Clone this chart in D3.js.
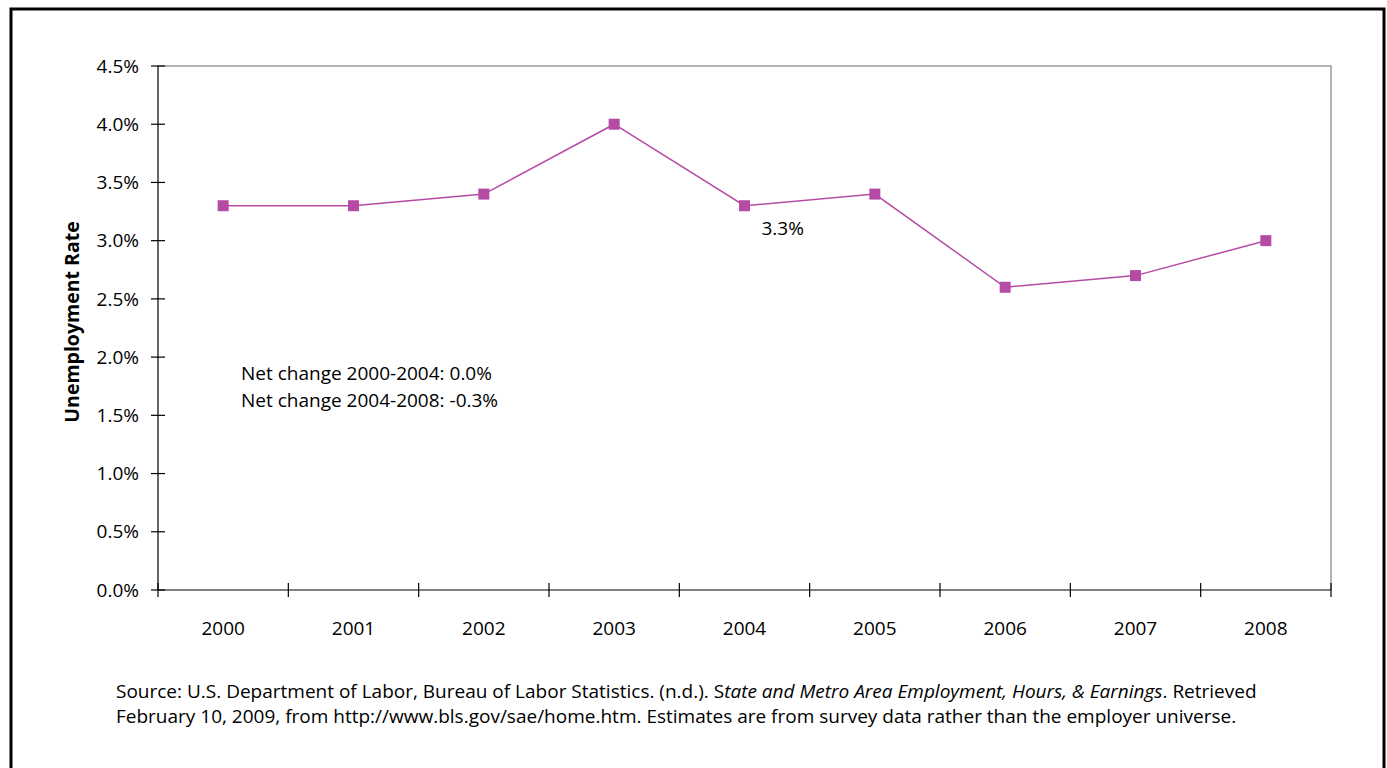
<!DOCTYPE html>
<html>
<head>
<meta charset="utf-8">
<script src="https://cdn.jsdelivr.net/npm/d3@7.9.0/dist/d3.min.js"></script>
<style>
  body { margin: 0; background: #fff; }
  svg { display: block; font-family: "Open Sans", "Noto Sans", sans-serif; }
</style>
</head>
<body>
<svg id="chart" width="1387" height="768"></svg>
<script>
const years = ['2000', '2001', '2002', '2003', '2004', '2005', '2006', '2007', '2008'];
const rates = [3.3, 3.3, 3.4, 4.0, 3.3, 3.4, 2.6, 2.7, 3.0];
const yTicks = [0, 0.5, 1.0, 1.5, 2.0, 2.5, 3.0, 3.5, 4.0, 4.5];
const notes = ['Net change 2000-2004: 0.0%', 'Net change 2004-2008: -0.3%'];

const width = 1387;
const height = 768;
const margin = { top: 66, right: 56, bottom: 178, left: 158 };
const lineColor = '#b64ba6';
const fs = 19;

const svg = d3.select('#chart');

// outer frame
svg.append('rect')
  .attr('x', 11).attr('y', 9)
  .attr('width', 1373).attr('height', 770)
  .attr('fill', 'none')
  .attr('stroke', '#000')
  .attr('stroke-width', 3);

const xScale = d3.scaleBand()
  .domain(years)
  .range([margin.left, width - margin.right]);

const yScale = d3.scaleLinear()
  .domain([0, 4.5])
  .range([height - margin.bottom, margin.top]);

const x0 = margin.left, x1 = width - margin.right;
const y0 = height - margin.bottom, y1 = margin.top;

// top and right plot border (grey)
svg.append('path')
  .attr('d', `M${x0},${y1}H${x1}V${y0}`)
  .attr('fill', 'none')
  .attr('stroke', '#9a9a9a')
  .attr('stroke-width', 1.5);

// y axis
const yAxis = svg.append('g').attr('transform', `translate(${x0},0)`);
yAxis.append('line')
  .attr('y1', y0).attr('y2', y1)
  .attr('stroke', '#000').attr('stroke-width', 1.2);
yAxis.selectAll('.tick')
  .data(yTicks)
  .join('g')
  .attr('transform', (d) => `translate(0,${yScale(d)})`)
  .each(function (d) {
    const g = d3.select(this);
    g.append('line').attr('x1', -7).attr('x2', 7).attr('stroke', '#000').attr('stroke-width', 1.2);
    g.append('text')
      .attr('x', -19).attr('dy', '0.35em')
      .attr('text-anchor', 'end')
      .attr('font-size', fs)
      .text(d.toFixed(1) + '%');
  });

// x axis
const xAxis = svg.append('g').attr('transform', `translate(0,${y0})`);
xAxis.append('line')
  .attr('x1', x0).attr('x2', x1)
  .attr('stroke', '#000').attr('stroke-width', 1.2);
const tickPos = years.map((d) => xScale(d)).concat([x1]);
xAxis.selectAll('.xt')
  .data(tickPos)
  .join('line')
  .attr('x1', (d) => d).attr('x2', (d) => d)
  .attr('y1', -7).attr('y2', 7)
  .attr('stroke', '#000').attr('stroke-width', 1.2);
xAxis.selectAll('text')
  .data(years)
  .join('text')
  .attr('x', (d) => xScale(d) + xScale.bandwidth() / 2)
  .attr('y', 45)
  .attr('text-anchor', 'middle')
  .attr('font-size', fs)
  .text((d) => d);

// y label
svg.append('text')
  .attr('transform', `translate(79,322) rotate(-90)`)
  .attr('text-anchor', 'middle')
  .attr('font-size', 19.5)
  .attr('font-weight', 'bold')
  .text('Unemployment Rate');

// line + markers
const pts = years.map((d, i) => [xScale(d) + xScale.bandwidth() / 2, yScale(rates[i])]);
svg.append('path')
  .attr('d', d3.line()(pts))
  .attr('fill', 'none')
  .attr('stroke', lineColor)
  .attr('stroke-width', 1.5);
svg.selectAll('.mk')
  .data(pts)
  .join('rect')
  .attr('x', (d) => d[0] - 5.5)
  .attr('y', (d) => d[1] - 5.5)
  .attr('width', 11).attr('height', 11)
  .attr('fill', lineColor);

// data label at 2004
svg.append('text')
  .attr('x', xScale('2004') + xScale.bandwidth() / 2 + 17)
  .attr('y', yScale(rates[4]) + 29)
  .attr('font-size', fs)
  .text(rates[4].toFixed(1) + '%');

// net change notes
svg.selectAll('.note')
  .data(notes)
  .join('text')
  .attr('x', 241)
  .attr('y', (d, i) => 380 + i * 27)
  .attr('font-size', fs)
  .text((d) => d);

// source
const src = svg.append('text').attr('font-size', fs);
const l1 = src.append('tspan').attr('x', 116).attr('y', 698);
l1.append('tspan').text('Source: U.S. Department of Labor, Bureau of Labor Statistics. (n.d.). S');
l1.append('tspan').attr('font-style', 'italic').text('tate and Metro Area Employment, Hours, & Earnings');
l1.append('tspan').text('. Retrieved');
src.append('tspan').attr('x', 116).attr('y', 723)
  .text('February 10, 2009, from http://www.bls.gov/sae/home.htm. Estimates are from survey data rather than the employer universe.');
</script>
</body>
</html>
